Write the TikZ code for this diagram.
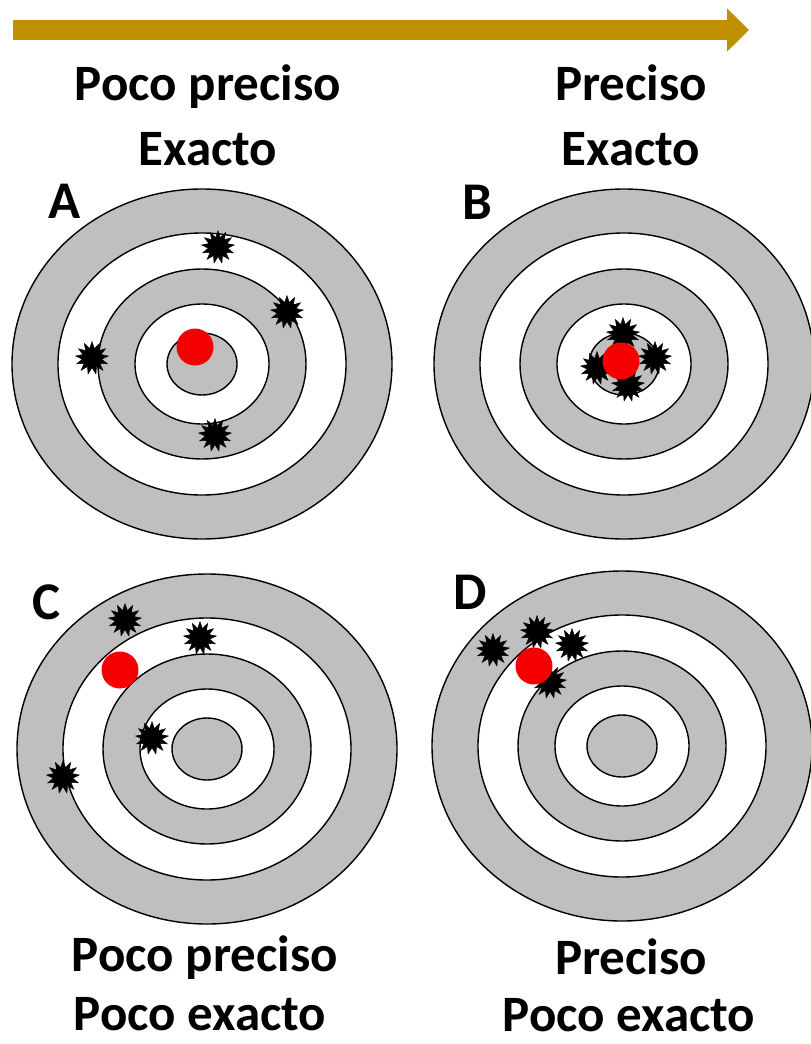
\documentclass[tikz,border=0pt]{standalone}
\usepackage{fontspec}
\setmainfont{Carlito}
\usetikzlibrary{arrows.meta,shapes.geometric}

\definecolor{arrowgold}{RGB}{192,144,0}
\definecolor{ringgray}{RGB}{191,191,191}
\definecolor{shotred}{RGB}{245,0,0}

\begin{document}
\begin{tikzpicture}[
    x=1pt, y=-1pt,
    caption/.style={font=\fontsize{51}{60}\selectfont\bfseries,
      anchor=base, inner sep=0pt},
    letter/.style={font=\fontsize{53}{60}\selectfont\bfseries, inner sep=0pt},
    ring/.style={draw=black, line width=1.4pt},
    hit/.style={star, star points=13, star point ratio=1.7,
      fill=black, draw=black, line width=0.4pt,
      minimum size=33pt, inner sep=0pt},
    aim/.style={circle, fill=shotred, minimum size=37pt, inner sep=0pt},
    bigarrow/.style={arrowgold, line width=20pt,
      -{Triangle[length=22pt, width=42pt]}}
  ]
    \useasboundingbox (0,0) rectangle (811,1044);

    \coordinate (arrowstart) at (13,30);
    \coordinate (arrowend) at (749,30);
    \draw[bigarrow] (arrowstart) -- (arrowend);

    \node[caption] (topleft1) at (208,100) {Poco preciso};
    \node[caption] (topleft2) at (208,165) {Exacto};
    \node[caption] (topright1) at (631,100) {Preciso};
    \node[caption] (topright2) at (631,165) {Exacto};

    % the four targets
    \foreach \t/\cx/\cy in {A/202/364, B/624/364, C/207/749, D/622/746} {
      \coordinate (target\t) at (\cx,\cy);
      \foreach \rx/\ry/\c in {190/175/ringgray, 144/131/white,
          104/95/ringgray, 67/60/white, 35/31/ringgray}
        \draw[ring, fill=\c] (target\t) ellipse [x radius=\rx, y radius=\ry];
    }

    \node[letter] (letterA) at (65,201) {A};
    \node[letter] (letterB) at (477,202) {B};
    \node[letter] (letterC) at (47,602) {C};
    \node[letter] (letterD) at (470,592) {D};

    % shots
    \node[hit] (shotA1) at (218,247) {};
    \node[hit] (shotA2) at (287,312) {};
    \node[hit] (shotA3) at (92,358) {};
    \node[hit] (shotA4) at (215,435) {};
    \node[aim] (aimA) at (195,347) {};

    \node[hit] (shotB1) at (623,334) {};
    \node[hit] (shotB2) at (597,368) {};
    \node[hit] (shotB3) at (655,358) {};
    \node[hit] (shotB4) at (628,385) {};
    \node[aim] (aimB) at (621,361) {};

    \node[hit] (shotC1) at (125,620) {};
    \node[hit] (shotC2) at (200,638) {};
    \node[hit] (shotC3) at (152,738) {};
    \node[hit] (shotC4) at (63,777) {};
    \node[aim] (aimC) at (120,670) {};

    \node[hit] (shotD1) at (493,650) {};
    \node[hit] (shotD2) at (537,632) {};
    \node[hit] (shotD3) at (572,645) {};
    \node[hit] (shotD4) at (550,682) {};
    \node[aim] (aimD) at (534,666) {};

    \node[caption] (bottomleft1) at (205,971) {Poco preciso};
    \node[caption] (bottomleft2) at (200,1030) {Poco exacto};
    \node[caption] (bottomright1) at (631,974) {Preciso};
    \node[caption] (bottomright2) at (629,1031) {Poco exacto};
  \end{tikzpicture}
\end{document}
